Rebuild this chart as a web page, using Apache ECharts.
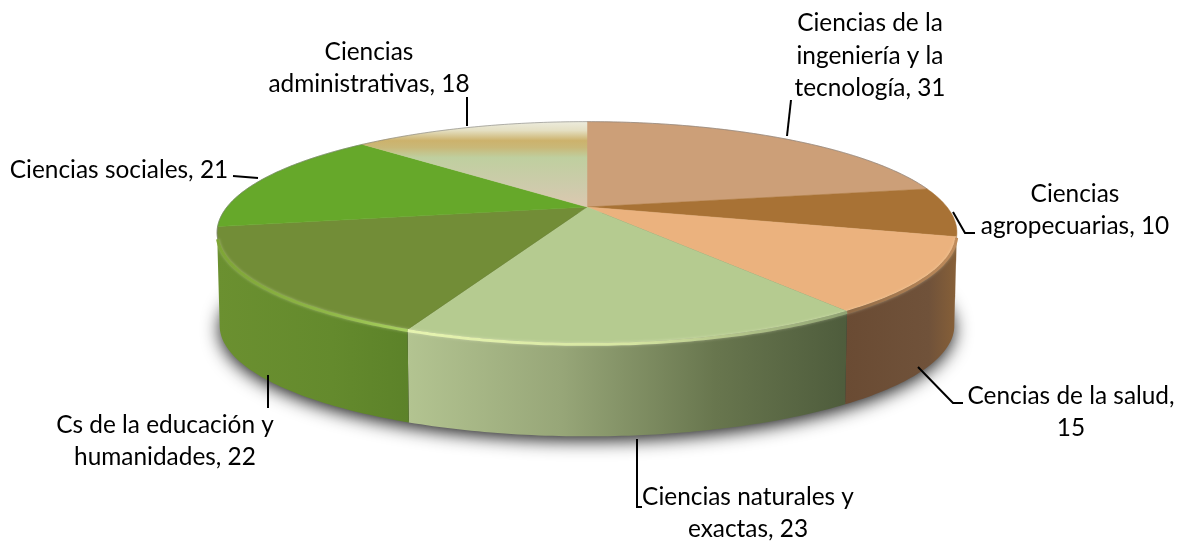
<!DOCTYPE html>
<html><head><meta charset="utf-8">
<style>html,body{margin:0;padding:0;background:#fff}#c{width:1180px;height:541px}</style>
<script src="https://cdn.jsdelivr.net/npm/echarts@6/dist/echarts.min.js"></script>
</head><body><div id="c"></div>
<script>
// Data, clockwise from the top of the pie
const categories = ['Ciencias de la\ningeniería y la\ntecnología','Ciencias\nagropecuarias','Cencias de la salud,\n','Ciencias naturales y\nexactas','Cs de la educación y\nhumanidades','Ciencias sociales','Ciencias\nadministrativas'];
const values = [31,10,15,23,22,21,18];

// Styling and layout
const topColors = ['#cc9f78','#a87235','#ebb27e','#b5cb90','#728d37','#66a82a',null];
const wallStops = [
  null,
  [[0,'#8a5f35'],[1,'#8a5f35']],
  [[0,'#6a4b33'],[0.75,'#70523a'],[1,'#876038']],
  [[0,'#b3c491'],[0.35,'#97a678'],[0.7,'#68764e'],[1,'#4e5c3c']],
  [[0,'#6b9030'],[0.6,'#648a2d'],[1,'#5c8229']],
  null,null];
const rimStops = [
  null,null,
  [[0,'#8f6a46'],[1,'#c08c5c']],
  [[0,'#e6f4b0'],[0.5,'#d6e6a2'],[1,'#8fa272']],
  [[0,'#7ea536'],[0.6,'#90b848'],[1,'#a8d060']],
  null,null];
const labelBoxes = [[870,56],[1075,210],[1071,412],[748,513],[165,441],[119,170],[369,68]];
const leaders = [
  [[791,100],[787,136]],
  [[953,212],[965,233],[975,233]],
  [[918,367],[953,403],[963,403]],
  [[637,439],[637,507],[642,507]],
  [[268,375],[268,408]],
  [[233,176],[258,178]],
  [[467,97],[467,126]]
];
const cx=587, cy=207, ax=360, by=105, k=0.23, depth=93;
const total = values.reduce((a,b)=>a+b,0);
const sumBefore = i => values.slice(0,i).reduce((a,b)=>a+b,0);
function proj(t,dy,s){
  const u=Math.sin(t), v=Math.cos(t), w=1+k*v;
  return [cx+(s||1)*ax*u/w, cy-by*v/w+(dy||0)];
}
function arc(a,b,dy,s){
  const pts=[], n=Math.max(2,Math.ceil(Math.abs(b-a)/0.015));
  for(let i=0;i<=n;i++) pts.push(proj(a+(b-a)*i/n,dy,s));
  return pts;
}
const rad = v => v/total*Math.PI*2;
const visA=Math.acos(-k), visB=2*Math.PI-visA;
const LG=echarts.graphic.LinearGradient;
const adminFill=new LG(0,122,0,207,[{offset:0,color:'#ecebdc'},{offset:0.1,color:'#e4dfc2'},{offset:0.22,color:'#ccb26c'},{offset:0.3,color:'#c9b878'},{offset:0.42,color:'#bfcf9f'},{offset:0.75,color:'#cdcbab'},{offset:1,color:'#dcc8b0'}],true);
const stops=a=>a.map(s=>({offset:s[0],color:s[1]}));

const option={
  animation:false,
  backgroundColor:'#ffffff',
  series:[
    {type:'custom',coordinateSystem:'none',silent:true,data:[total],
     renderItem(){
       return {type:'polygon',
         shape:{points:arc(0,Math.PI*2,depth-2,0.992)},
         style:{fill:'#333',shadowBlur:18,shadowColor:'rgba(0,0,0,0.9)',shadowOffsetY:6}};
     }},
    {type:'custom',coordinateSystem:'none',silent:true,data:values,
     renderItem(p){
       const i=p.dataIndex, a=rad(sumBefore(i)), b=rad(sumBefore(i)+values[i]);
       const s=Math.max(a,visA), e=Math.min(b,visB);
       if(e<=s||!wallStops[i]) return {type:'group',children:[]};
       const t=arc(s,e), l=arc(e,s,depth,0.993);
       const xs=t.concat(l).map(q=>q[0]);
       const x0=Math.min(...xs), x1=Math.max(...xs);
       const fill=new LG(x0,0,x1,0,stops(wallStops[i]),true);
       return {type:'polygon',shape:{points:t.concat(l)},style:{fill,stroke:null}};
     }},
    {type:'custom',coordinateSystem:'none',silent:true,data:values,
     renderItem(p){
       const i=p.dataIndex, a=rad(sumBefore(i)), b=rad(sumBefore(i)+values[i]);
       const fill=topColors[i]||adminFill;
       return {type:'polygon',shape:{points:[[cx,cy]].concat(arc(a,b))},style:{fill,stroke:fill,lineWidth:0.5}};
     }},
    {type:'custom',coordinateSystem:'none',silent:true,data:values,
     renderItem(p){
       const i=p.dataIndex, a=rad(sumBefore(i)), b=rad(sumBefore(i)+values[i]);
       const kids=[];
       if(rimStops[i]){
         const pts=arc(Math.max(a,visA),Math.min(b,visB-0.05),1);
         const xs=pts.map(q=>q[0]);
         const x0=Math.min(...xs), x1=Math.max(...xs);
         kids.push({type:'polyline',shape:{points:pts},style:{fill:null,stroke:new LG(x0,0,x1,0,stops(rimStops[i]),true),lineWidth:3,shadowBlur:3,shadowColor:'rgba(255,255,220,0.35)'}});
       }
       if(a<visA||b>visB){
         const pts=i===0?arc(a,Math.min(b,visA)):arc(Math.max(a,visB),b);
         kids.push({type:'polyline',shape:{points:pts},style:{fill:null,stroke:'rgba(120,120,120,0.55)',lineWidth:1}});
       }
       return {type:'group',children:kids};
     }},
    {type:'custom',coordinateSystem:'none',silent:true,data:values,
     renderItem(p){
       const i=p.dataIndex, name=categories[i], v=values[i];
       const text=name.endsWith(',\n')?name+v:name+', '+v;
       return {type:'group',children:[
         {type:'polyline',shape:{points:leaders[i]},style:{fill:null,stroke:'#000',lineWidth:2}},
         {type:'text',x:labelBoxes[i][0],y:labelBoxes[i][1],
          style:{text,fill:'#000',font:'24.4px Lato',lineHeight:32.5,align:'center',verticalAlign:'middle'}}
       ]};
     }}
  ]
};
echarts.init(document.getElementById('c'),null,{renderer:'canvas'}).setOption(option);
</script></body></html>
